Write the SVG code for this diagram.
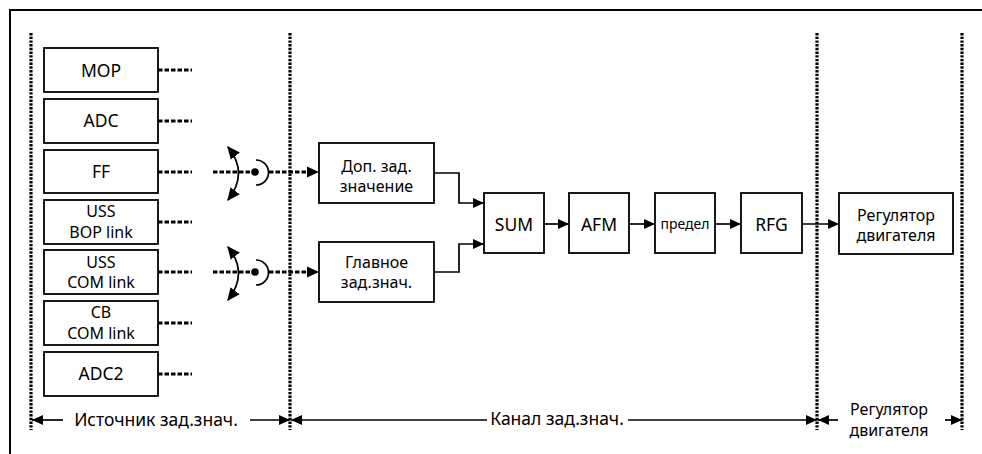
<svg xmlns="http://www.w3.org/2000/svg" width="982" height="454" viewBox="0 0 982 454">
<defs>
<style>
text{font-family:"Noto Sans","Open Sans","Liberation Sans",sans-serif;font-size:17.5px;fill:#000;text-anchor:middle}
.two{font-size:16px}
.sm{font-size:14px}
.box{fill:#fff;stroke:#000;stroke-width:1.8}
.vdot{stroke:#000;stroke-width:3.2;stroke-dasharray:2.4 1.3;fill:none}
.hdot{stroke:#000;stroke-width:2.8;stroke-dasharray:4.5 2;fill:none}
.ln{stroke:#000;stroke-width:1.7;fill:none}
</style>
<marker id="ah" viewBox="0 0 10 10" refX="10" refY="5" markerWidth="11" markerHeight="11" markerUnits="userSpaceOnUse" orient="auto">
<path d="M0,0.5 L10,5 L0,9.5 Z" fill="#000"/>
</marker>
<marker id="ahs" viewBox="0 0 10 10" refX="9" refY="5" markerWidth="13" markerHeight="13" markerUnits="userSpaceOnUse" orient="auto">
<path d="M0,0.5 L10,5 L0,9.5 Z" fill="#000"/>
</marker>
<marker id="ahstart" viewBox="0 0 10 10" refX="1" refY="5" markerWidth="13" markerHeight="13" markerUnits="userSpaceOnUse" orient="auto">
<path d="M10,0.5 L0,5 L10,9.5 Z" fill="#000"/>
</marker>
</defs>

<g id="frame">
<path d="M10,454 L10,10 L982,10" fill="none" stroke="#000" stroke-width="2"/>
</g>

<g id="separators">
<line class="vdot" x1="31" y1="33" x2="31" y2="430"/>
<line class="vdot" x1="290" y1="33" x2="290" y2="430"/>
<line class="vdot" x1="817" y1="33" x2="817" y2="430"/>
<line class="vdot" x1="962" y1="33" x2="962" y2="430"/>
</g>

<g id="MOP"><rect class="box" x="44" y="48" width="114" height="44"/><text x="101" y="76.5">MOP</text></g>
<g id="ADC"><rect class="box" x="44" y="99" width="114" height="44"/><text x="101" y="127">ADC</text></g>
<g id="FF"><rect class="box" x="44" y="150" width="114" height="43"/><text x="101" y="178">FF</text></g>
<g id="USS_BOP"><rect class="box" x="44" y="200" width="114" height="44"/><text class="two" x="101" y="217">USS</text><text class="two" x="101" y="238">BOP link</text></g>
<g id="USS_COM"><rect class="box" x="44" y="250" width="114" height="44"/><text class="two" x="101" y="267.5">USS</text><text class="two" x="101" y="288">COM link</text></g>
<g id="CB_COM"><rect class="box" x="44" y="301" width="114" height="44"/><text class="two" x="101" y="318">CB</text><text class="two" x="101" y="338.5">COM link</text></g>
<g id="ADC2"><rect class="box" x="44" y="352" width="114" height="44"/><text x="101" y="380">ADC2</text></g>

<g id="DopZad"><rect class="box" x="319" y="143" width="115" height="60"/><text class="two" x="376.5" y="171.5">Доп. зад.</text><text class="two" x="376.5" y="192">значение</text></g>
<g id="GlavZad"><rect class="box" x="319" y="242" width="115" height="60"/><text class="two" x="376.5" y="267.5">Главное</text><text class="two" x="376.5" y="288">зад.знач.</text></g>
<g id="SUM"><rect class="box" x="484" y="193" width="60" height="60"/><text x="514" y="231">SUM</text></g>
<g id="AFM"><rect class="box" x="569" y="193" width="60" height="60"/><text x="599" y="231">AFM</text></g>
<g id="predel"><rect class="box" x="655" y="193" width="60" height="60"/><text class="sm" x="685" y="229">предел</text></g>
<g id="RFG"><rect class="box" x="741" y="193" width="61" height="60"/><text x="771.5" y="231">RFG</text></g>
<g id="Regulator"><rect class="box" x="839" y="193" width="114" height="61"/><text class="two" x="896" y="220.5">Регулятор</text><text class="two" x="896" y="241">двигателя</text></g>

<g id="connectors">
<line class="hdot" x1="158" y1="70" x2="192" y2="70"/>
<line class="hdot" x1="158" y1="121" x2="192" y2="121"/>
<line class="hdot" x1="158" y1="172" x2="192" y2="172"/>
<line class="hdot" x1="158" y1="222" x2="192" y2="222"/>
<line class="hdot" x1="158" y1="272" x2="192" y2="272"/>
<line class="hdot" x1="158" y1="323" x2="192" y2="323"/>
<line class="hdot" x1="158" y1="374" x2="192" y2="374"/>
<line class="hdot" x1="213" y1="172" x2="253" y2="172"/>
<circle cx="255" cy="172" r="3.8" fill="#000"/>
<path class="ln" d="M256,160 A12.5,12.5 0 0 1 256,185"/>
<line class="hdot" x1="269" y1="172" x2="308" y2="172"/>
<path d="M307,166.5 L319,172 L307,177.5 Z" fill="#000"/>
<path class="ln" d="M228,147 Q249,173 228,200" marker-start="url(#ahstart)" marker-end="url(#ahs)"/>
<line class="hdot" x1="213" y1="272" x2="253" y2="272"/>
<circle cx="255" cy="272" r="3.8" fill="#000"/>
<path class="ln" d="M256,260 A12.5,12.5 0 0 1 256,285"/>
<line class="hdot" x1="269" y1="272" x2="308" y2="272"/>
<path d="M307,266.5 L319,272 L307,277.5 Z" fill="#000"/>
<path class="ln" d="M228,247 Q249,273 228,300" marker-start="url(#ahstart)" marker-end="url(#ahs)"/>
<path class="ln" d="M434,173 H459 V203 H484" marker-end="url(#ah)"/>
<path class="ln" d="M434,272 H459 V244 H484" marker-end="url(#ah)"/>
<line class="ln" x1="544" y1="224" x2="569" y2="224" marker-end="url(#ah)"/>
<line class="ln" x1="629" y1="224" x2="655" y2="224" marker-end="url(#ah)"/>
<line class="ln" x1="715" y1="224" x2="741" y2="224" marker-end="url(#ah)"/>
<line class="ln" x1="802" y1="224" x2="839" y2="224" marker-end="url(#ah)"/>
</g>

<g id="dimensions">
<line class="ln" x1="63" y1="420" x2="32" y2="420" marker-end="url(#ah)"/>
<line class="ln" x1="250" y1="420" x2="290" y2="420" marker-end="url(#ah)"/>
<text x="156" y="426">Источник зад.знач.</text>
<line class="ln" x1="487" y1="420" x2="291" y2="420" marker-end="url(#ah)"/>
<line class="ln" x1="628" y1="420" x2="817" y2="420" marker-end="url(#ah)"/>
<text x="557" y="425">Канал зад.знач.</text>
<line class="ln" x1="838" y1="420" x2="818" y2="420" marker-end="url(#ah)"/>
<line class="ln" x1="945" y1="420" x2="962" y2="420" marker-end="url(#ah)"/>
<text class="two" x="889" y="415">Регулятор</text><text class="two" x="889" y="435.5">двигателя</text>
</g>
</svg>
